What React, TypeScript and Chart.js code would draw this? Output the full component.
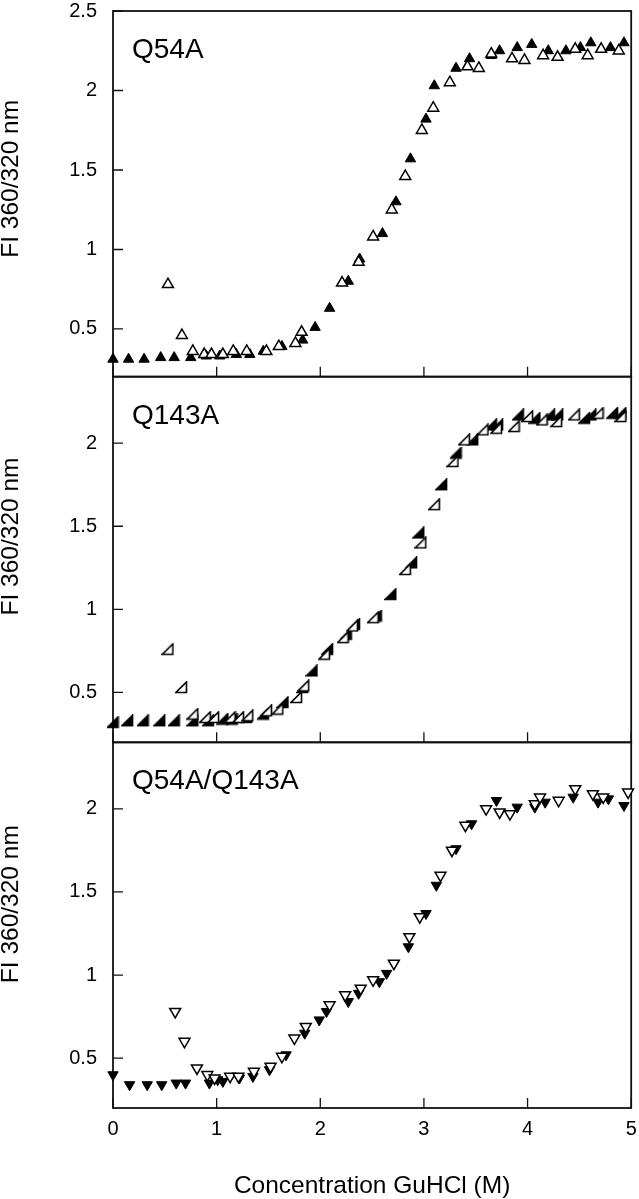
import React, { useEffect, useRef } from "react";
import { Chart, registerables } from "chart.js";

Chart.register(...registerables);

const FONT = '"Liberation Sans", Arial, Helvetica, sans-serif';

const xTicks = [0, 1, 2, 3, 4, 5];
const yTicksTop = [0.5, 1, 1.5, 2, 2.5];
const yTicks = [0.5, 1, 1.5, 2];
const panelLabels = ["Q54A", "Q143A", "Q54A/Q143A"];
const yTitle = "FI 360/320 nm";
const xTitle = "Concentration GuHCl (M)";

// Panel 1: Q54A
const q54aFilledX = [0, 0.15, 0.3, 0.46, 0.59, 0.75, 0.9, 1.03, 1.19, 1.32, 1.45, 1.63, 1.83, 1.95, 2.09, 2.27, 2.38, 2.6, 2.73, 2.87, 3.02, 3.1, 3.31, 3.44, 3.65, 3.73, 3.9, 4.04, 4.2, 4.37, 4.51, 4.61, 4.8, 4.93];
const q54aFilledY = [0.31, 0.31, 0.31, 0.32, 0.32, 0.32, 0.33, 0.33, 0.34, 0.34, 0.36, 0.39, 0.43, 0.51, 0.63, 0.8, 0.94, 1.1, 1.3, 1.57, 1.82, 2.03, 2.14, 2.2, 2.22, 2.25, 2.27, 2.29, 2.25, 2.25, 2.27, 2.3, 2.27, 2.3];
const q54aOpenX = [0.53, 0.665, 0.77, 0.88, 0.95, 1.06, 1.16, 1.29, 1.48, 1.6, 1.76, 1.82, 2.21, 2.37, 2.51, 2.69, 2.82, 2.98, 3.09, 3.25, 3.42, 3.53, 3.65, 3.85, 3.97, 4.15, 4.29, 4.46, 4.58, 4.71, 4.88];
const q54aOpenY = [0.78, 0.46, 0.36, 0.34, 0.34, 0.34, 0.36, 0.36, 0.36, 0.39, 0.41, 0.48, 0.79, 0.92, 1.08, 1.25, 1.46, 1.75, 1.89, 2.05, 2.15, 2.14, 2.23, 2.2, 2.19, 2.22, 2.21, 2.26, 2.22, 2.26, 2.25];

// Panel 2: Q143A
const q143aFilledX = [0, 0.14, 0.29, 0.45, 0.59, 0.77, 0.92, 1.06, 1.15, 1.29, 1.45, 1.64, 1.83, 1.92, 2.07, 2.25, 2.33, 2.54, 2.68, 2.88, 2.95, 3.17, 3.31, 3.47, 3.65, 3.71, 3.91, 4.07, 4.21, 4.29, 4.55, 4.61, 4.82, 4.9];
const q143aFilledY = [0.32, 0.33, 0.33, 0.33, 0.33, 0.33, 0.33, 0.34, 0.34, 0.35, 0.37, 0.44, 0.53, 0.63, 0.76, 0.85, 0.91, 0.96, 1.09, 1.28, 1.46, 1.75, 1.94, 2.02, 2.11, 2.11, 2.17, 2.15, 2.17, 2.17, 2.15, 2.17, 2.18, 2.18];
const q143aOpenX = [0.53, 0.66, 0.77, 0.89, 0.97, 1.13, 1.21, 1.3, 1.48, 1.59, 1.77, 1.84, 2.04, 2.22, 2.31, 2.51, 2.82, 2.97, 3.1, 3.28, 3.39, 3.57, 3.7, 3.87, 4.0, 4.14, 4.28, 4.45, 4.68, 4.9];
const q143aOpenY = [0.76, 0.53, 0.37, 0.35, 0.35, 0.35, 0.35, 0.36, 0.39, 0.4, 0.47, 0.54, 0.73, 0.83, 0.9, 0.95, 1.24, 1.4, 1.63, 1.89, 2.02, 2.08, 2.09, 2.1, 2.16, 2.14, 2.13, 2.17, 2.18, 2.16];

// Panel 3: Q54A/Q143A
const dblFilledX = [0, 0.16, 0.33, 0.47, 0.61, 0.7, 0.93, 1.01, 1.06, 1.22, 1.35, 1.51, 1.67, 1.85, 1.99, 2.06, 2.27, 2.37, 2.57, 2.64, 2.85, 3.02, 3.12, 3.31, 3.46, 3.7, 3.9, 4.07, 4.17, 4.44, 4.68, 4.78, 4.93];
const dblFilledY = [0.4, 0.34, 0.34, 0.34, 0.35, 0.35, 0.35, 0.37, 0.36, 0.38, 0.39, 0.43, 0.52, 0.65, 0.73, 0.78, 0.84, 0.89, 0.96, 1.01, 1.17, 1.37, 1.54, 1.76, 1.91, 2.05, 2.01, 2.01, 2.04, 2.07, 2.04, 2.06, 2.02];
const dblOpenX = [0.6, 0.69, 0.81, 0.91, 0.98, 1.13, 1.21, 1.36, 1.52, 1.63, 1.75, 1.86, 2.09, 2.24, 2.39, 2.51, 2.71, 2.86, 2.96, 3.16, 3.27, 3.4, 3.6, 3.73, 3.83, 4.07, 4.12, 4.3, 4.46, 4.63, 4.73, 4.97];
const dblOpenY = [0.78, 0.6, 0.44, 0.4, 0.38, 0.39, 0.39, 0.42, 0.45, 0.51, 0.62, 0.69, 0.82, 0.88, 0.92, 0.97, 1.07, 1.23, 1.35, 1.6, 1.75, 1.9, 2.0, 1.98, 1.97, 2.03, 2.07, 2.05, 2.12, 2.09, 2.07, 2.1];

const pts = (xs: number[], ys: number[]) => xs.map((x, i) => ({ x, y: ys[i] }));

function rightTriangle(filled: boolean): HTMLCanvasElement {
  const s = 13;
  const c = document.createElement("canvas");
  c.width = s;
  c.height = s;
  const g = c.getContext("2d")!;
  g.beginPath();
  g.moveTo(s - 1.5, 1);
  g.lineTo(s - 1.5, s - 1.5);
  g.lineTo(1, s - 1.5);
  g.closePath();
  g.fillStyle = filled ? "#000" : "#fff";
  g.fill();
  g.lineWidth = 1.6;
  g.lineJoin = "miter";
  g.strokeStyle = "#000";
  g.stroke();
  return c;
}

const TITLE_SHIFT = [-15, -23, -21];

const framePlugin = {
  id: "framePlugin",
  beforeDatasetsDraw(chart: any) {
    const { ctx, chartArea } = chart;
    const xs = chart.scales.x;
    const yScales = [chart.scales.y1, chart.scales.y2, chart.scales.y3];
    ctx.save();
    ctx.strokeStyle = "#111";
    yScales.forEach((ys: any, i: number) => {
      ctx.lineWidth = 1.8;
      ctx.strokeRect(chartArea.left, ys.top, chartArea.right - chartArea.left, ys.bottom - ys.top);
      ctx.lineWidth = 1.3;
      ctx.beginPath();
      ys.ticks.forEach((t: any) => {
        const py = ys.getPixelForValue(t.value);
        ctx.moveTo(chartArea.left, py);
        ctx.lineTo(chartArea.left + 10, py);
      });
      xs.ticks.forEach((t: any) => {
        const px = xs.getPixelForValue(t.value);
        ctx.moveTo(px, ys.bottom);
        ctx.lineTo(px, ys.bottom - 10);
      });
      ctx.stroke();
      ctx.fillStyle = "#000";
      ctx.font = `28px ${FONT}`;
      ctx.textAlign = "left";
      ctx.textBaseline = "alphabetic";
      ctx.fillText(panelLabels[i], chartArea.left + 19, ys.top + 47);
      ctx.save();
      ctx.translate(11, (ys.top + ys.bottom) / 2 + TITLE_SHIFT[i]);
      ctx.rotate(-Math.PI / 2);
      ctx.textAlign = "center";
      ctx.textBaseline = "middle";
      ctx.font = `24.5px ${FONT}`;
      ctx.fillText(yTitle, 0, 0);
      ctx.restore();
    });
    ctx.restore();
  },
};

function yScale(min: number, max: number, ticks: number[], weight: number) {
  return {
    type: "linear",
    position: "left",
    stack: "panels",
    stackWeight: 1,
    weight,
    min,
    max,
    afterBuildTicks: (s: any) => {
      s.ticks = ticks.map((v) => ({ value: v }));
    },
    afterFit: (s: any) => {
      s.width = 113;
      s.paddingTop = 0;
      s.paddingBottom = 0;
    },
    ticks: {
      padding: 16,
      color: "#000",
      font: { family: FONT, size: 20, lineHeight: 1 },
      callback: (v: any) => String(v),
    },
    grid: { display: false, drawTicks: false },
    border: { display: false },
  };
}

export default function App() {
  const ref = useRef<HTMLCanvasElement | null>(null);

  useEffect(() => {
    if (!ref.current) return;
    const tri = (data: any, filled: boolean, yAxisID: string, rotation = 0) => ({
      data,
      yAxisID,
      xAxisID: "x",
      showLine: false,
      pointStyle: "triangle",
      rotation,
      pointRadius: filled ? 6 : 6.3,
      pointHoverRadius: 6,
      pointBackgroundColor: filled ? "#000" : "#fff",
      pointBorderColor: "#000",
      pointBorderWidth: filled ? 1 : 1.5,
      clip: false,
    });
    const rt = (data: any, filled: boolean) => ({
      data,
      yAxisID: "y2",
      xAxisID: "x",
      showLine: false,
      pointStyle: rightTriangle(filled),
      pointRadius: 6,
      pointHoverRadius: 6,
      clip: false,
    });
    const chart = new Chart(ref.current, {
      type: "scatter",
      data: {
        datasets: [
          tri(pts(q54aOpenX, q54aOpenY), false, "y1"),
          tri(pts(q54aFilledX, q54aFilledY), true, "y1"),
          rt(pts(q143aOpenX, q143aOpenY), false),
          rt(pts(q143aFilledX, q143aFilledY), true),
          tri(pts(dblOpenX, dblOpenY), false, "y3", 180),
          tri(pts(dblFilledX, dblFilledY), true, "y3", 180),
        ] as any,
      },
      options: {
        animation: false,
        responsive: false,
        maintainAspectRatio: false,
        events: [],
        layout: { padding: { top: 11, right: 7, left: 0, bottom: 0 } },
        plugins: { legend: { display: false }, tooltip: { enabled: false }, title: { display: false } },
        scales: {
          x: {
            type: "linear",
            position: "bottom",
            min: 0,
            max: 5,
            afterBuildTicks: (s: any) => {
              s.ticks = xTicks.map((v) => ({ value: v }));
            },
            afterFit: (s: any) => {
              s.height = 91;
              s.paddingLeft = 0;
              s.paddingRight = 0;
            },
            ticks: {
              padding: 11,
              color: "#000",
              maxRotation: 0,
              autoSkip: false,
              font: { family: FONT, size: 20, lineHeight: 1 },
              callback: (v: any) => String(v),
            },
            grid: { display: false, drawTicks: false },
            border: { display: false },
            title: {
              display: true,
              text: xTitle,
              color: "#000",
              font: { family: FONT, size: 24.5, lineHeight: 1 },
              padding: { top: 0, bottom: 1 },
            },
          },
          y3: yScale(0.2, 2.4, yTicks, 1),
          y2: yScale(0.2, 2.4, yTicks, 2),
          y1: yScale(0.2, 2.5, yTicksTop, 3),
        } as any,
      },
      plugins: [framePlugin],
    });
    return () => chart.destroy();
  }, []);

  return (
    <div style={{ position: "absolute", left: 0, top: 0, width: 639, height: 1199, background: "#fff" }}>
      <canvas ref={ref} width={639} height={1199} style={{ display: "block" }} />
    </div>
  );
}
